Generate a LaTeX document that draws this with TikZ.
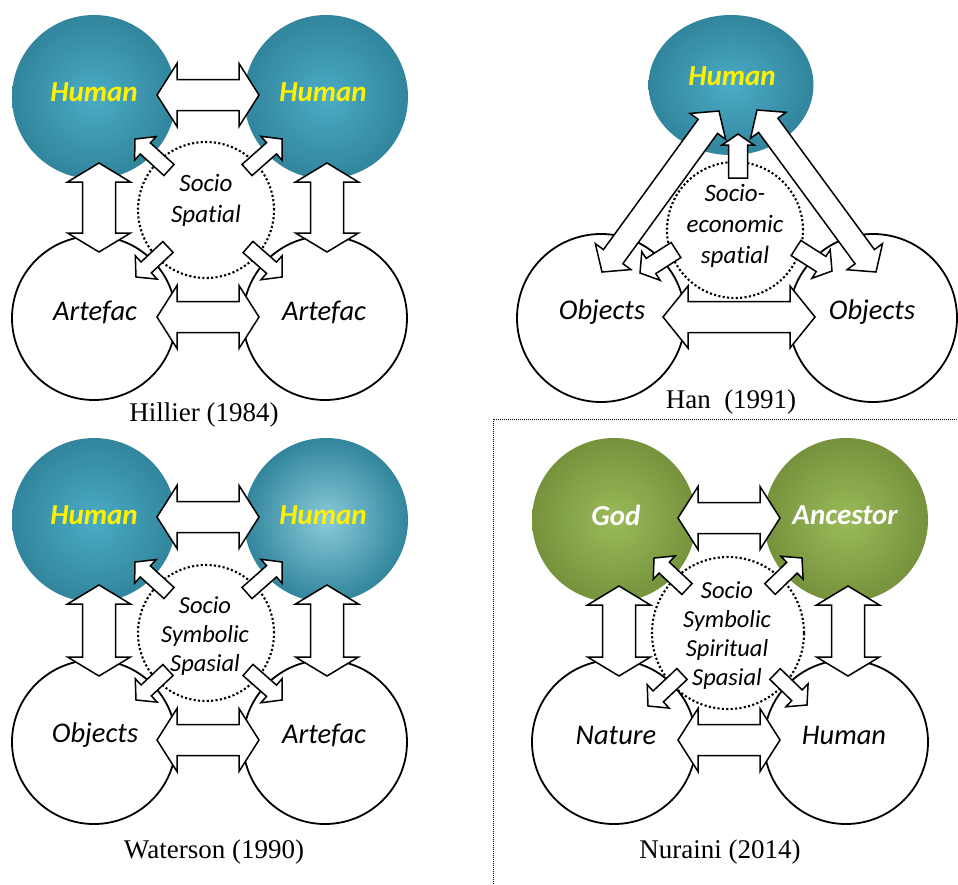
\documentclass[tikz,border=0pt]{standalone}
\usepackage{fontspec}
\setmainfont{Liberation Serif}
\newfontfamily\calibri[Ligatures={NoCommon}]{Carlito}
\usetikzlibrary{calc,shapes.geometric}
\definecolor{tealout}{HTML}{31859C}
\definecolor{tealin}{HTML}{4BACC6}
\definecolor{teallight}{HTML}{8ACBDA}
\definecolor{oliveout}{HTML}{76923C}
\definecolor{olivein}{HTML}{9BBB59}
\tikzset{
  blob/.style={circle, inner sep=0pt, minimum size=164pt},
  tealblob/.style={blob, inner color=tealin, outer color=tealout},
  paleblob/.style={blob, inner color=teallight, outer color=tealout},
  oliveblob/.style={blob, inner color=olivein, outer color=oliveout},
  whiteblob/.style={blob, draw=black, line width=1.8pt, fill=white},
  dotring/.style={circle, draw=black, line width=2.1pt, dash pattern=on 2.1pt off 2.3pt, inner sep=0pt, minimum size=136pt},
  blockarr/.style={draw=black, fill=white, line width=1.5pt, line join=miter},
  lab/.style={font=\calibri\itshape\fontsize{28.5}{34}\selectfont, text=black},
  hlab/.style={font=\calibri\bfseries\itshape\fontsize{29}{34}\selectfont, text=yellow},
  wlab/.style={font=\calibri\bfseries\itshape\fontsize{29}{34}\selectfont, text=white},
  soclab/.style={align=center, font=\calibri\itshape\fontsize{25}{31}\selectfont},
  soclabs/.style={align=center, font=\calibri\itshape\fontsize{24.5}{29}\selectfont},
  captext/.style={font=\fontsize{27}{32}\selectfont},
  sepline/.style={draw=black, line width=1pt, dash pattern=on 1pt off 1pt}
}
% double-headed block arrow from #1 to #2: shaft half width, head half width, head length
\newcommand\dblarr[5]{%
  \draw[blockarr] (#1)
    -- ($(#1)!#5!(#2)!#4!90:(#2)$)
    -- ($(#1)!#5!(#2)!#3!90:(#2)$)
    -- ($(#2)!#5!(#1)!#3!-90:(#1)$)
    -- ($(#2)!#5!(#1)!#4!-90:(#1)$)
    -- (#2)
    -- ($(#2)!#5!(#1)!#4!90:(#1)$)
    -- ($(#2)!#5!(#1)!#3!90:(#1)$)
    -- ($(#1)!#5!(#2)!#3!-90:(#2)$)
    -- ($(#1)!#5!(#2)!#4!-90:(#2)$)
    -- cycle;}
% single-headed block arrow, tail #1, tip #2
\newcommand\sarr[5]{%
  \draw[blockarr] ($(#1)!#3!90:(#2)$)
    -- ($(#2)!#5!(#1)!#3!-90:(#1)$)
    -- ($(#2)!#5!(#1)!#4!-90:(#1)$)
    -- (#2)
    -- ($(#2)!#5!(#1)!#4!90:(#1)$)
    -- ($(#2)!#5!(#1)!#3!90:(#1)$)
    -- ($(#1)!#3!-90:(#2)$)
    -- cycle;}
\begin{document}
\begin{tikzpicture}[x=1pt,y=-1pt]
\useasboundingbox (0,0) rectangle (958,884);

%================ Panel 1: Hillier =================
\node[tealblob] (p1tl) at (94,97) {};
\node[tealblob] (p1tr) at (326,97) {};
\node[whiteblob] (p1bl) at (94,318) {};
\node[whiteblob] (p1br) at (325,318) {};
\node[dotring] (p1ring) at (206,210) {};
\coordinate (p1hA) at (157,95);  \coordinate (p1hB) at (259,95);
\coordinate (p1bA) at (157,317); \coordinate (p1bB) at (259,317);
\coordinate (p1lA) at (99,163);  \coordinate (p1lB) at (99,252);
\coordinate (p1rA) at (327,163); \coordinate (p1rB) at (327,252);
\coordinate (p1t1) at (169,170); \coordinate (p1h1) at (135,139);
\coordinate (p1t2) at (247,170); \coordinate (p1h2) at (282,139);
\coordinate (p1t3) at (168,247); \coordinate (p1h3) at (136,277);
\coordinate (p1t4) at (248,247); \coordinate (p1h4) at (282,277);
\dblarr{p1hA}{p1hB}{15.5pt}{31.5pt}{20pt}
\dblarr{p1bA}{p1bB}{15.5pt}{31.5pt}{20pt}
\dblarr{p1lA}{p1lB}{16.5pt}{31.5pt}{19pt}
\dblarr{p1rA}{p1rB}{16.5pt}{31.5pt}{19pt}
\sarr{p1t1}{p1h1}{7.5pt}{16pt}{14pt}
\sarr{p1t2}{p1h2}{7.5pt}{16pt}{14pt}
\sarr{p1t3}{p1h3}{7.5pt}{16pt}{14pt}
\sarr{p1t4}{p1h4}{7.5pt}{16pt}{14pt}
\node[hlab] (p1l1) at (94,92) {Human};
\node[hlab] (p1l2) at (323,92) {Human};
\node[lab] (p1l3) at (95,312) {Artefac};
\node[lab] (p1l4) at (324,312) {Artefac};
\node[soclab] (p1l5) at (206,200) {Socio\\Spatial};
\node[captext] (p1cap) at (204,415) {Hillier (1984)};

%================ Panel 2: Han =================
\node[ellipse, inner sep=0pt, minimum width=165pt, minimum height=140pt, inner color=tealin, outer color=tealout] (p2hum) at (731,85) {};
\node[whiteblob, minimum size=168pt] (p2bl) at (601,318) {};
\node[whiteblob, minimum size=168pt] (p2br) at (873,318) {};
\node[dotring] (p2ring) at (735,230) {};
\coordinate (p2bA) at (663,317); \coordinate (p2bB) at (815,317);
\coordinate (p2lA) at (602,272); \coordinate (p2lB) at (719,111);
\coordinate (p2rA) at (757,110); \coordinate (p2rB) at (876,272);
\coordinate (p2ut) at (738,178); \coordinate (p2uh) at (738,134);
\coordinate (p2t1) at (676,250); \coordinate (p2h1) at (640,273);
\coordinate (p2t2) at (796,248); \coordinate (p2h2) at (832,271);
\dblarr{p2bA}{p2bB}{15.5pt}{31pt}{25pt}
\dblarr{p2lA}{p2lB}{12pt}{22pt}{19pt}
\dblarr{p2rA}{p2rB}{12pt}{22pt}{19pt}
\sarr{p2ut}{p2uh}{9.5pt}{16pt}{11pt}
\sarr{p2t1}{p2h1}{9pt}{17pt}{13pt}
\sarr{p2t2}{p2h2}{9pt}{17pt}{13pt}
\node[hlab] (p2l1) at (732,76) {Human};
\node[lab] (p2l2) at (602,312) {Objects};
\node[lab] (p2l3) at (872,312) {Objects};
\node[soclab] (p2l4) at (735,226) {Socio-\\economic\\spatial};
\node[captext] (p2cap) at (731,402) {Han\ \ (1991)};

%================ Panel 3: Waterson =================
\begin{scope}[shift={(0,423)}]
\node[tealblob] (p3tl) at (94,97) {};
\node[paleblob] (p3tr) at (326,97) {};
\node[whiteblob] (p3bl) at (94,319) {};
\node[whiteblob] (p3br) at (325,319) {};
\node[dotring] (p3ring) at (206,210) {};
\coordinate (p3hA) at (157,94);  \coordinate (p3hB) at (259,94);
\coordinate (p3bA) at (157,317); \coordinate (p3bB) at (259,317);
\coordinate (p3lA) at (99,162);  \coordinate (p3lB) at (99,253);
\coordinate (p3rA) at (327,162); \coordinate (p3rB) at (327,253);
\coordinate (p3t1) at (169,170); \coordinate (p3h1) at (135,139);
\coordinate (p3t2) at (247,170); \coordinate (p3h2) at (282,139);
\coordinate (p3t3) at (168,247); \coordinate (p3h3) at (136,277);
\coordinate (p3t4) at (248,247); \coordinate (p3h4) at (282,277);
\dblarr{p3hA}{p3hB}{15.5pt}{31.5pt}{20pt}
\dblarr{p3bA}{p3bB}{15.5pt}{31.5pt}{20pt}
\dblarr{p3lA}{p3lB}{16.5pt}{31.5pt}{19pt}
\dblarr{p3rA}{p3rB}{16.5pt}{31.5pt}{19pt}
\sarr{p3t1}{p3h1}{7.5pt}{16pt}{14pt}
\sarr{p3t2}{p3h2}{7.5pt}{16pt}{14pt}
\sarr{p3t3}{p3h3}{7.5pt}{16pt}{14pt}
\sarr{p3t4}{p3h4}{7.5pt}{16pt}{14pt}
\node[hlab] (p3l1) at (94,92) {Human};
\node[hlab] (p3l2) at (323,92) {Human};
\node[lab] (p3l3) at (95,312) {Objects};
\node[lab] (p3l4) at (324,312) {Artefac};
\node[soclabs] (p3l5) at (205,213) {Socio\\Symbolic\\Spasial};
\end{scope}
\node[captext] (p3cap) at (214,852) {Waterson (1990)};

%================ Panel 4: Nuraini =================
\begin{scope}[shift={(521,423)}]
\node[oliveblob] (p4tl) at (93,97) {};
\node[oliveblob] (p4tr) at (325,97) {};
\node[whiteblob] (p4bl) at (93,319) {};
\node[whiteblob] (p4br) at (325,319) {};
\node[dotring, minimum size=152pt] (p4ring) at (207,210) {};
\coordinate (p4hA) at (157,95);  \coordinate (p4hB) at (259,95);
\coordinate (p4bA) at (157,317); \coordinate (p4bB) at (259,317);
\coordinate (p4lA) at (98,163);  \coordinate (p4lB) at (98,253);
\coordinate (p4rA) at (327,163); \coordinate (p4rB) at (327,253);
\coordinate (p4t1) at (166,166); \coordinate (p4h1) at (133,135);
\coordinate (p4t2) at (249,166); \coordinate (p4h2) at (281,135);
\coordinate (p4t3) at (161,251); \coordinate (p4h3) at (127,283);
\coordinate (p4t4) at (254,251); \coordinate (p4h4) at (286,282);
\dblarr{p4hA}{p4hB}{15.5pt}{31.5pt}{20pt}
\dblarr{p4bA}{p4bB}{15.5pt}{31.5pt}{20pt}
\dblarr{p4lA}{p4lB}{16.5pt}{31.5pt}{19pt}
\dblarr{p4rA}{p4rB}{16.5pt}{31.5pt}{19pt}
\sarr{p4t1}{p4h1}{7.5pt}{16pt}{14pt}
\sarr{p4t2}{p4h2}{7.5pt}{16pt}{14pt}
\sarr{p4t3}{p4h3}{7.5pt}{16pt}{14pt}
\sarr{p4t4}{p4h4}{7.5pt}{16pt}{14pt}
\node[wlab] (p4l1) at (95,92) {God};
\node[wlab] (p4l2) at (324,92) {Ancestor};
\node[lab] (p4l3) at (95,312) {Nature};
\node[lab] (p4l4) at (323,312) {Human};
\node[soclabs] (p4l5) at (206,213) {Socio\\Symbolic\\Spiritual\\Spasial};
\end{scope}
\node[captext] (p4cap) at (720,852) {Nuraini (2014)};

%================ separator =================
\coordinate (sepA) at (493,884);
\coordinate (sepB) at (493,419);
\coordinate (sepC) at (958,419);
\draw[sepline] (sepA) -- (sepB) -- (sepC);
\end{tikzpicture}
\end{document}
